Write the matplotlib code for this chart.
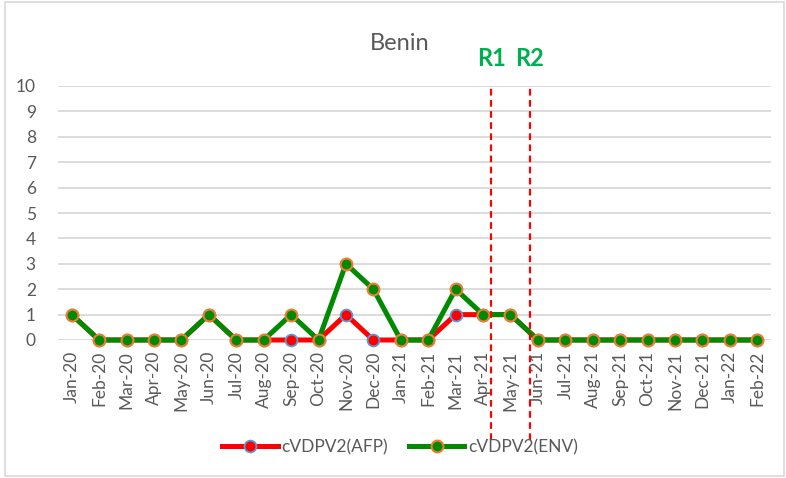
import numpy as np
import matplotlib
matplotlib.use("Agg")
import matplotlib.pyplot as plt
from matplotlib.patches import Rectangle

months = ["Jan-20", "Feb-20", "Mar-20", "Apr-20", "May-20", "Jun-20", "Jul-20",
          "Aug-20", "Sep-20", "Oct-20", "Nov-20", "Dec-20", "Jan-21", "Feb-21",
          "Mar-21", "Apr-21", "May-21", "Jun-21", "Jul-21", "Aug-21", "Sep-21",
          "Oct-21", "Nov-21", "Dec-21", "Jan-22", "Feb-22"]
afp = [1, 0, 0, 0, 0, 1, 0, 0, 0, 0, 1, 0, 0, 0, 1, 1, 1, 0, 0, 0, 0, 0, 0, 0, 0, 0]
env = [1, 0, 0, 0, 0, 1, 0, 0, 1, 0, 3, 2, 0, 0, 2, 1, 1, 0, 0, 0, 0, 0, 0, 0, 0, 0]
rounds = ["R1", "R2"]
round_pos = [15.3, 16.7]

plt.rcParams['font.family'] = ['Lato', 'DejaVu Sans']
gray = "#595959"

fig = plt.figure(figsize=(7.86, 4.78), dpi=100)
fig.patches.append(Rectangle((5/786, 2/478), 779/786, 474/478, transform=fig.transFigure,
                             fill=False, edgecolor="#d9d9d9", linewidth=1.2))

ax = fig.add_axes([58/786, 1 - 340/478, 713/786, 254/478])
x = np.arange(len(months))

ax.plot(x, afp, color="#ff0000", lw=3.6, marker="o", ms=8.5, mfc="#ff0000",
        mec="#5b9bd5", mew=1.3, clip_on=False, zorder=3, label="cVDPV2(AFP)")
ax.plot(x, env, color="#008a00", lw=3.6, marker="o", ms=8.5, mfc="#008a00",
        mec="#ed7d31", mew=1.5, clip_on=False, zorder=4, label="cVDPV2(ENV)")

ax.set_xlim(-0.5, len(months) - 0.5)
ax.set_ylim(0, 10)
ax.set_yticks(range(0, 11))
ax.set_xticks(x)
ax.set_xticklabels(months, rotation=90)
ax.tick_params(axis="both", length=0, labelsize=12.5, labelcolor=gray)
ax.tick_params(axis="x", pad=8)
ax.tick_params(axis="y", pad=16)
ax.grid(axis="y", color="#d9d9d9", lw=1.3, zorder=0)
ax.set_axisbelow(True)
for s in ax.spines.values():
    s.set_visible(False)

# round markers
for name, pos in zip(rounds, round_pos):
    ax.plot([pos, pos], [-3.95, 10.05], color="#ff0000", lw=1.6, ls=(0, (3, 2)),
            clip_on=False, zorder=5)
    ax.text(pos, 11.1, name, color="#00b050", fontsize=17, fontweight="bold",
            ha="center", va="center")

fig.text(400/786, 1 - 43/478, "Benin", color=gray, fontsize=17, ha="center", va="center")

fig.legend(loc="center", bbox_to_anchor=(400/786, 1 - 447/478), ncol=2, frameon=False,
           fontsize=12.5, labelcolor=gray, handlelength=3.2, columnspacing=1.2,
           handletextpad=0.2)

fig.savefig("out.png", dpi=100)
